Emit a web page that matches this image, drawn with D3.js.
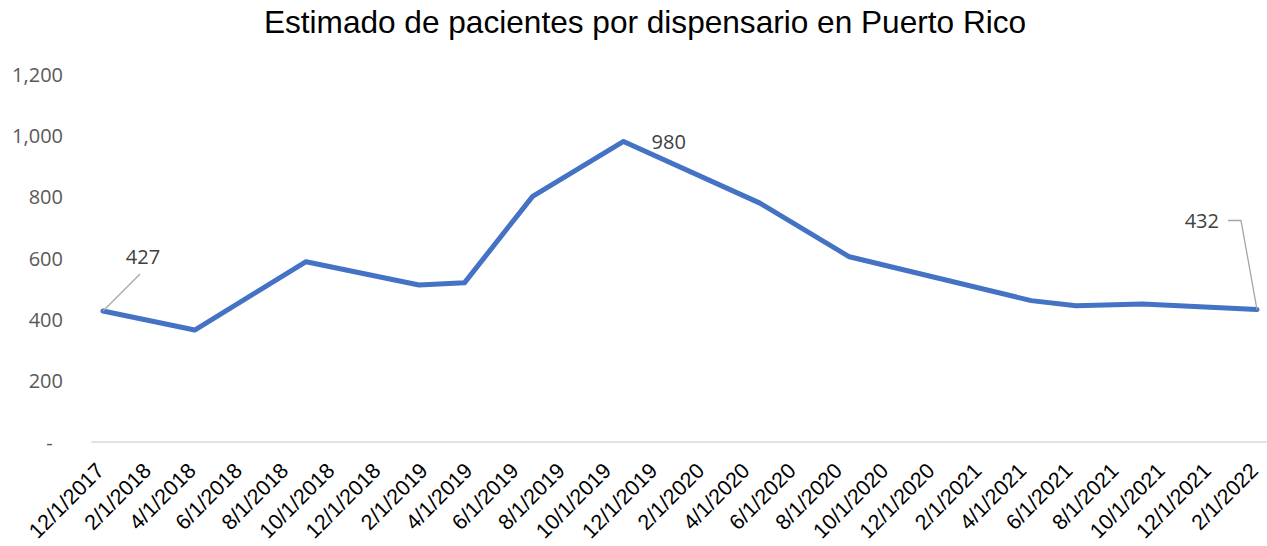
<!DOCTYPE html>
<html>
<head>
<meta charset="utf-8">
<script src="https://cdn.jsdelivr.net/npm/d3@7"></script>
<style>
  body { margin: 0; background: #fff; }
  svg { display: block; }
</style>
</head>
<body>
<svg id="chart" width="1267" height="546"></svg>
<script>
// ---- data ----
const title = "Estimado de pacientes por dispensario en Puerto Rico";
const dates = ["2017-12-01","2018-04-01","2018-08-26","2019-01-22","2019-03-23","2019-06-21",
               "2019-10-19","2020-04-16","2020-08-12","2021-04-09","2021-06-07","2021-09-03","2022-02-01"];
const values = [427, 365, 588, 512, 519, 801, 980, 779, 604, 461, 444, 450, 432];
const xTickLabels = ["12/1/2017","2/1/2018","4/1/2018","6/1/2018","8/1/2018","10/1/2018","12/1/2018",
  "2/1/2019","4/1/2019","6/1/2019","8/1/2019","10/1/2019","12/1/2019","2/1/2020","4/1/2020","6/1/2020",
  "8/1/2020","10/1/2020","12/1/2020","2/1/2021","4/1/2021","6/1/2021","8/1/2021","10/1/2021","12/1/2021","2/1/2022"];
const yTicks = [0, 200, 400, 600, 800, 1000, 1200];
const labeledIdx = [0, 6, 12];

// ---- setup ----
const svg = d3.select("#chart");
const parseISO = d3.timeParse("%Y-%m-%d");
const parseMDY = d3.timeParse("%m/%d/%Y");
const data = dates.map((d, i) => ({ date: parseISO(d), value: values[i] }));
const tickDates = xTickLabels.map(s => parseMDY(s));

const x = d3.scaleTime()
  .domain([tickDates[0], tickDates[tickDates.length - 1]])
  .range([103, 1257]);
const y = d3.scaleLinear().domain([0, 1200]).range([442, 74]);

const halfMonth = (x(tickDates[1]) - x(tickDates[0])) / 4;

// title
svg.append("text")
  .attr("x", 645).attr("y", 33)
  .attr("text-anchor", "middle")
  .attr("font-family", "Liberation Sans, Arial, sans-serif")
  .attr("font-size", 31.6)
  .attr("fill", "#000")
  .text(title);

// y axis labels
const yFmt = v => v === 0 ? "-  " : d3.format(",")(v);
const yAxis = d3.axisLeft(y).tickValues(yTicks).tickFormat(yFmt).tickSize(0).tickPadding(0);
const yg = svg.append("g").attr("transform", "translate(63,0)").call(yAxis);
yg.select(".domain").remove();
yg.selectAll("text")
  .attr("font-family", "Open Sans, sans-serif")
  .attr("font-size", 20)
  .attr("fill", "#595959")
  .style("white-space", "pre")
  .attr("dy", "0.35em");

// x axis line
svg.append("line")
  .attr("x1", x(tickDates[0]) - halfMonth).attr("x2", x(tickDates[tickDates.length - 1]) + halfMonth)
  .attr("y1", y(0)).attr("y2", y(0))
  .attr("stroke", "#d9d9d9").attr("stroke-width", 1.5);

// x labels
const xAxis = d3.axisBottom(x).tickValues(tickDates).tickFormat((d, i) => xTickLabels[i]).tickSize(0);
const xg = svg.append("g").attr("transform", `translate(0,${y(0)})`).call(xAxis);
xg.select(".domain").remove();
xg.selectAll("text")
  .attr("font-family", "Liberation Sans, Arial, sans-serif")
  .attr("font-size", 21.5)
  .attr("fill", "#000")
  .attr("text-anchor", "end")
  .attr("dy", null)
  .attr("y", 0)
  .attr("transform", "translate(2,30) rotate(-45)");

// line
const line = d3.line().x(d => x(d.date)).y(d => y(d.value));
svg.append("path")
  .datum(data)
  .attr("d", line)
  .attr("fill", "none")
  .attr("stroke", "#4472C4")
  .attr("stroke-width", 5)
  .attr("stroke-linejoin", "round")
  .attr("stroke-linecap", "round");

// data labels
const lblFont = { family: "Open Sans, sans-serif", size: 20, color: "#404040" };
function addLabel(d, tx, ty, anchor, leader) {
  if (leader) {
    svg.append("path")
      .attr("d", leader)
      .attr("fill", "none")
      .attr("stroke", "#a6a6a6")
      .attr("stroke-width", 1.3);
  }
  svg.append("text")
    .attr("x", tx).attr("y", ty)
    .attr("text-anchor", anchor)
    .attr("font-family", lblFont.family)
    .attr("font-size", lblFont.size)
    .attr("fill", lblFont.color)
    .text(d3.format(",")(d.value));
}
const p0 = data[labeledIdx[0]], p1 = data[labeledIdx[1]], p2 = data[labeledIdx[2]];
{
  const px = x(p0.date), py = y(p0.value);
  addLabel(p0, px + 40, py - 47, "middle", `M${px},${py}L${px + 37},${py - 37}`);
}
{
  const px = x(p1.date), py = y(p1.value);
  addLabel(p1, px + 28, py + 8, "start", null);
}
{
  const px = x(p2.date), py = y(p2.value);
  addLabel(p2, px - 38, py - 82, "end", `M${px},${py}L${px - 16},${py - 89}L${px - 29},${py - 89}`);
}
</script>
</body>
</html>
